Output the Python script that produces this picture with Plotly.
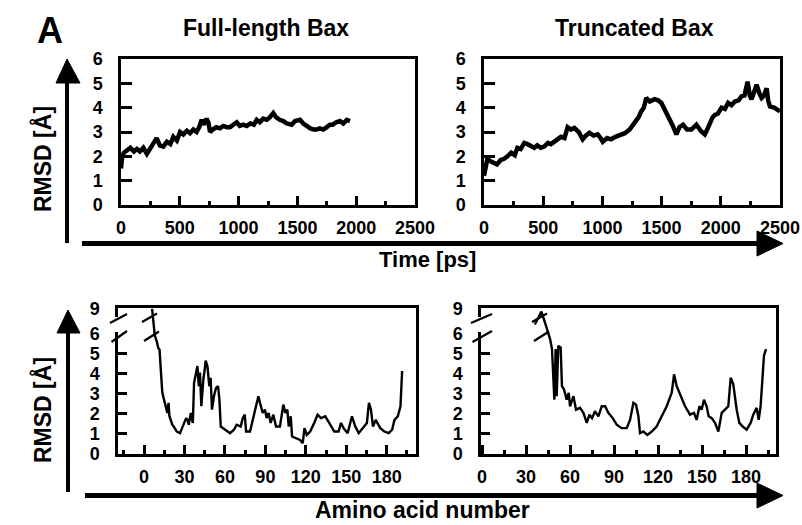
import plotly.graph_objects as go

# ---------------- data ----------------
fl_time = [0, 10, 25, 50, 80, 110, 135, 160, 190, 220,
           246, 270, 303, 330, 360, 390, 420, 445, 475, 502,
           530, 560, 587, 615, 643, 665, 686, 705, 728, 745,
           757, 780, 810, 842, 870, 900, 927, 955, 984, 1010,
           1040, 1069, 1100, 1130, 1154, 1180, 1210, 1239, 1265, 1295,
           1320, 1350, 1380, 1410, 1451, 1480, 1522, 1550, 1579, 1610,
           1640, 1664, 1690, 1720, 1750, 1777, 1800, 1830, 1862, 1890,
           1920, 1947]
fl_rmsd = [1.5, 2.0, 2.15, 2.25, 2.35, 2.2, 2.3, 2.2, 2.35, 2.1,
           2.3, 2.55, 2.75, 2.45, 2.4, 2.6, 2.5, 2.8, 2.65, 3.0,
           2.9, 3.05, 2.95, 3.1, 3.0, 3.2, 3.5, 3.3, 3.55, 3.35,
           3.0, 3.1, 3.2, 3.15, 3.25, 3.2, 3.2, 3.3, 3.4, 3.25,
           3.3, 3.25, 3.35, 3.3, 3.5, 3.4, 3.55, 3.5, 3.6, 3.78,
           3.6, 3.5, 3.45, 3.35, 3.3, 3.45, 3.5, 3.35, 3.25, 3.15,
           3.1, 3.1, 3.15, 3.1, 3.2, 3.3, 3.3, 3.4, 3.45, 3.35,
           3.5, 3.45]

tr_time = [0, 15, 28, 55, 85, 110, 141, 170, 198, 230,
           260, 282, 310, 340, 367, 395, 424, 450, 480, 508,
           540, 565, 593, 620, 650, 680, 706, 735, 763, 800,
           833, 860, 890, 925, 960, 985, 1003, 1040, 1073, 1110,
           1158, 1190, 1229, 1260, 1285, 1305, 1328, 1350, 1370, 1400,
           1441, 1470, 1497, 1525, 1554, 1590, 1625, 1650, 1681, 1715,
           1752, 1775, 1794, 1830, 1865, 1885, 1907, 1930, 1949, 1975,
           2006, 2035, 2062, 2090, 2119, 2150, 2175, 2200, 2226, 2245,
           2260, 2280, 2302, 2325, 2345, 2365, 2387, 2400, 2415, 2450,
           2486, 2500]
tr_rmsd = [1.2, 1.7, 1.88, 1.8, 1.75, 1.67, 1.85, 1.9, 2.0, 2.15,
           2.05, 2.35, 2.3, 2.55, 2.5, 2.4, 2.35, 2.45, 2.35, 2.4,
           2.55, 2.5, 2.6, 2.65, 2.8, 2.75, 3.2, 3.1, 3.17, 3.0,
           2.7, 2.85, 2.97, 2.85, 2.9, 2.75, 2.6, 2.75, 2.7, 2.8,
           2.9, 2.95, 3.1, 3.3, 3.5, 3.6, 3.85, 4.0, 4.4, 4.25,
           4.35, 4.3, 4.2, 3.95, 3.65, 3.3, 2.9, 3.2, 3.3, 3.1,
           3.1, 3.25, 3.3, 3.05, 2.9, 3.1, 3.37, 3.6, 3.7, 3.75,
           4.0, 3.95, 4.2, 4.1, 4.25, 4.3, 4.46, 4.5, 5.07, 4.5,
           4.35, 4.7, 4.94, 4.6, 4.4, 4.5, 4.8, 4.3, 4.05, 4.0,
           3.85, 3.85]

fl_residue = [6, 7, 8, 9.5, 10.5, 11.5, 12.5, 13.5, 14.5, 15.6,
              16.5, 17.3, 18.2, 18.8, 19.8, 21, 22, 24.3, 26.7, 28,
              29.2, 30.2, 31.2, 32.2, 33.2, 34.7, 35.5, 36.2, 37.1, 38,
              38.6, 39.6, 40.6, 41.5, 42.5, 43.3, 44, 45, 45.7, 47,
              48.4, 49.4, 50.4, 51.9, 53.4, 54.9, 55.9, 56.9, 58.5, 60,
              63.8, 66.7, 68.7, 71.7, 73.2, 74.7, 75.7, 78.6, 80.6, 82.3,
              84.8, 86, 88, 89.7, 90.9, 92.4, 93.9, 95.9, 97.9, 100.8,
              102.1, 103.3, 104.8, 106.3, 107.3, 108.8, 109.8, 113.2, 115.7, 117.7,
              119, 120.7, 123.2, 126.2, 128.7, 131.2, 134.4, 138.1, 141.1, 144.3,
              146.1, 148, 151, 154.2, 156.7, 159.2, 162.9, 165.3, 166.8, 168.3,
              169.8, 171.8, 175.2, 178.2, 181.5, 184, 185.7, 188.2, 190.2, 191.4]
fl_res_rmsd = [9.0, 7.0, 5.9, 5.6, 5.3, 5.2, 4.1, 3.1, 2.8, 2.55,
               2.3, 2.05, 2.55, 1.9, 1.7, 1.45, 1.37, 1.12, 1.04, 1.25,
               1.46, 1.6, 1.79, 1.7, 1.46, 2.05, 1.7, 1.55, 3.55, 3.8,
               4.06, 4.39, 3.38, 4.06, 2.38, 3.2, 3.72, 4.2, 4.65, 4.39,
               3.38, 3.8, 2.21, 2.9, 3.3, 3.38, 2.72, 1.37, 1.3, 1.21,
               1.04, 1.21, 1.46, 1.37, 1.79, 1.96, 1.12, 1.12, 1.7, 2.21,
               2.88, 2.55, 2.05, 2.21, 1.79, 2.05, 1.55, 1.96, 1.37, 1.37,
               2.05, 2.46, 2.05, 2.21, 1.37, 1.88, 0.87, 0.79, 0.7, 0.54,
               1.29, 0.95, 1.12, 1.55, 1.96, 1.79, 1.88, 1.46, 1.12, 1.12,
               1.55, 1.29, 1.04, 1.88, 1.37, 1.04, 1.37, 1.55, 2.55, 2.21,
               1.37, 1.7, 1.29, 1.12, 1.04, 1.21, 1.7, 1.88, 2.38, 4.14]

tr_residue = [36, 40.5, 44, 46.4, 47.7, 48.6, 49.3, 50.2, 50.9, 52,
              53.6, 54.5, 55.9, 57.7, 59.1, 60, 62.3, 64.1, 66.8, 69.1,
              71.4, 73.2, 75, 77, 79.3, 81.6, 83.9, 86.1, 89.1, 91.8,
              95.2, 98.6, 100.9, 103.2, 105, 106.6, 107.7, 110, 112.7, 115.7,
              119, 122.5, 125.9, 129.3, 130.9, 132.7, 135, 138.4, 141.8, 144.5,
              146.3, 148.2, 149.7, 151.3, 153.1, 154.5, 156.6, 158.8, 161.1, 163.4,
              165.6, 167.9, 169.5, 171.3, 173.6, 175.4, 177.7, 180.4, 183.1, 184.9,
              187.2, 188.6, 189.9, 191.3, 192.2, 193.6]
tr_res_rmsd = [7.1, 8.66, 6.73, 5.73, 5.23, 3.72, 2.71, 5.23, 2.88, 5.39,
               5.31, 3.38, 3.22, 2.71, 3.05, 2.38, 2.88, 2.21, 2.3, 2.05,
               1.55, 1.96, 1.79, 2.13, 1.88, 2.38, 2.38, 2.05, 1.79, 1.46,
               1.29, 1.29, 1.7, 2.55, 2.46, 1.88, 1.04, 1.12, 0.95, 1.12,
               1.37, 1.88, 2.38, 3.05, 3.97, 3.38, 2.96, 2.38, 1.96, 2.05,
               1.7, 2.38, 2.21, 2.71, 2.38, 1.88, 1.79, 1.55, 1.12, 2.05,
               2.21, 2.38, 3.8, 3.47, 2.21, 1.55, 1.37, 1.21, 1.55, 1.96,
               2.3, 1.7, 2.38, 3.89, 4.9, 5.23]

time_ticks = [0, 500, 1000, 1500, 2000, 2500]
residue_ticks = [0, 30, 60, 90, 120, 150, 180]
rmsd_ticks_top = [0, 1, 2, 3, 4, 5, 6]
rmsd_labels_bottom = [0, 1, 2, 3, 4, 5, 6, 9]

# broken axis: values above 6 are compressed so that 9 sits at the top
BREAK_AT = 6.0
BREAK_TOP = 9.0
BREAK_TOP_POS = 7.24


def brk(v):
    if v <= BREAK_AT:
        return v
    return BREAK_AT + (v - BREAK_AT) * (BREAK_TOP_POS - BREAK_AT) / (BREAK_TOP - BREAK_AT)


# ---------------- layout helpers ----------------
W, H = 802, 525


def px(x):
    return x / W


def py(y):
    return 1 - y / H


FONT = "Liberation Sans, Arial, sans-serif"
BLACK = "black"

fig = go.Figure()
fig.add_trace(go.Scatter(x=fl_time, y=fl_rmsd, xaxis="x", yaxis="y", mode="lines",
                         line=dict(color=BLACK, width=4.5), showlegend=False))
fig.add_trace(go.Scatter(x=tr_time, y=tr_rmsd, xaxis="x2", yaxis="y2", mode="lines",
                         line=dict(color=BLACK, width=4.5), showlegend=False))
fig.add_trace(go.Scatter(x=fl_residue, y=[brk(v) for v in fl_res_rmsd], xaxis="x3", yaxis="y3",
                         mode="lines", line=dict(color=BLACK, width=2.4), showlegend=False))
fig.add_trace(go.Scatter(x=tr_residue, y=[brk(v) for v in tr_res_rmsd], xaxis="x4", yaxis="y4",
                         mode="lines", line=dict(color=BLACK, width=2.4), showlegend=False))

tickfont = dict(family=FONT, size=18, color=BLACK, weight="bold")


def xaxis(dom, rng, tickvals, minor_dtick, anchor):
    return dict(domain=[px(dom[0]), px(dom[1])], range=rng, anchor=anchor,
                showline=True, mirror=True, linecolor=BLACK, linewidth=2.5,
                tickmode="array", tickvals=tickvals, ticks="inside", ticklen=9,
                tickwidth=2.5, tickcolor=BLACK, showgrid=False, zeroline=False,
                tickfont=tickfont, ticklabelstandoff=5, automargin=False,
                minor=dict(ticks="inside", tick0=0, dtick=minor_dtick, ticklen=4,
                           tickwidth=2.5, tickcolor=BLACK, showgrid=False))


def yaxis_top(dom, anchor):
    return dict(domain=[py(dom[1]), py(dom[0])], range=[0, 6], anchor=anchor,
                showline=True, mirror=True, linecolor=BLACK, linewidth=2.5,
                tickmode="array", tickvals=rmsd_ticks_top, ticks="inside", ticklen=11,
                tickwidth=2.5, tickcolor=BLACK, showgrid=False, zeroline=False,
                tickfont=tickfont, ticklabelstandoff=12, automargin=False)


def yaxis_bottom(dom, anchor):
    return dict(domain=[py(dom[1]), py(dom[0])], range=[0, 7.28], anchor=anchor,
                showline=True, mirror=True, linecolor=BLACK, linewidth=2.5,
                tickmode="array", tickvals=[brk(v) for v in rmsd_labels_bottom],
                ticktext=[str(v) for v in rmsd_labels_bottom], ticks="",
                showgrid=False, zeroline=False,
                tickfont=tickfont, ticklabelstandoff=12, automargin=False,
                minor=dict(ticks="inside", tickmode="array", tickvals=[1, 2, 3, 4, 5],
                           ticklen=9, tickwidth=2.5, tickcolor=BLACK, showgrid=False))


fig.update_layout(
    width=W, height=H, autosize=False, template="none",
    margin=dict(l=0, r=0, t=0, b=0),
    paper_bgcolor="white", plot_bgcolor="white",
    xaxis=xaxis((121, 415), [0, 2500], time_ticks, 250, "y"),
    yaxis=yaxis_top((59, 205), "x"),
    xaxis2=xaxis((484, 780), [0, 2500], time_ticks, 250, "y2"),
    yaxis2=yaxis_top((59, 205), "x2"),
    xaxis3=xaxis((118, 416), [-19.3, 201.7], residue_ticks, 15, "y3"),
    yaxis3=yaxis_bottom((308, 454), "x3"),
    xaxis4=xaxis((481, 776), [-0.7, 200.4], residue_ticks, 15, "y4"),
    yaxis4=yaxis_bottom((308, 454), "x4"),
)

shapes = []


def seg(x0, y0, x1, y1, w=2.2, color=BLACK):
    shapes.append(dict(type="line", xref="paper", yref="paper",
                       x0=px(x0), y0=py(y0), x1=px(x1), y1=py(y1),
                       line=dict(color=color, width=w)))


def tri(points):
    path = "M " + " L ".join(f"{px(a)},{py(b)}" for a, b in points) + " Z"
    shapes.append(dict(type="path", xref="paper", yref="paper", path=path,
                       fillcolor=BLACK, line=dict(color=BLACK, width=1)))


# gaps in the left frame edge of the broken axes
for xl in (118, 481):
    shapes.append(dict(type="rect", xref="paper", yref="paper",
                       x0=px(xl - 3), x1=px(xl + 3), y0=py(332), y1=py(317),
                       fillcolor="white", line=dict(width=0)))

# break marks on the axes and on the curves
for (ax0, ax1, dx0, dx1) in ((110, 127, 142, 157), (471, 492, 532, 547)):
    seg(ax0, 323, ax1, 314)
    seg(ax0 + 1.5, 342, ax1, 331)
    seg(dx0, 322, dx1, 313.5)
    seg(dx0 + 2, 341, dx1 + 2, 331.5)

# big arrows - top row
seg(67, 243, 67, 80, w=4)
tri([(56, 83), (80, 83), (67, 59)])
seg(82, 243.5, 760, 243.5, w=5)
tri([(757, 231), (757, 256), (783, 243.5)])
# big arrows - bottom row
seg(68, 492, 68, 330, w=4)
tri([(57, 333), (80, 333), (68, 310)])
seg(85, 495.5, 760, 495.5, w=5)
tri([(757, 483), (757, 508), (783, 495.5)])

fig.update_layout(shapes=shapes)


def text(t, x, y, size, angle=0, yanchor="middle"):
    fig.add_annotation(text=t, x=px(x), y=py(y), xref="paper", yref="paper",
                       showarrow=False, xanchor="center", yanchor=yanchor,
                       textangle=angle, font=dict(family=FONT, size=size, color=BLACK))


text("<b>A</b>", 50, 31, 36)
text("<b>Full-length Bax</b>", 266, 28, 23)
text("<b>Truncated Bax</b>", 634, 28, 23)
text("<b>Time [ps]</b>", 428, 259, 22)
text("<b>Amino acid number</b>", 422, 524.5, 23, yanchor="bottom")
text("<b>RMSD [Å]</b>", 42, 159, 23, angle=-90)
text("<b>RMSD [Å]</b>", 42, 410, 23, angle=-90)

fig.write_html("out.html",
               config={"displayModeBar": False},
               post_script="document.body.style.margin='0';document.body.style.padding='0';")
